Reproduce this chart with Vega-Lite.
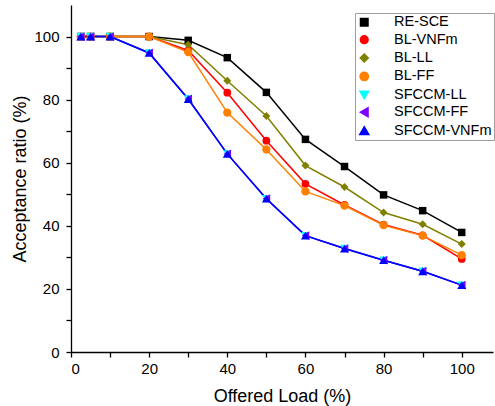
{
  "$schema": "https://vega.github.io/schema/vega-lite/v6.json",
  "autosize": {"type": "none"},
  "padding": {"left": 71, "top": 5, "right": 2, "bottom": 54},
  "width": 422,
  "height": 347,
  "background": "white",
  "config": {
    "view": {"stroke": null},
    "font": "Liberation Sans",
    "axis": {
      "grid": false,
      "domainColor": "black",
      "domainWidth": 1.3,
      "tickColor": "black",
      "tickWidth": 1.3,
      "labelColor": "black",
      "labelFont": "Liberation Sans",
      "labelFontSize": 15,
      "titleColor": "black",
      "titleFont": "Liberation Sans",
      "titleFontSize": 18,
      "titleFontWeight": "normal"
    }
  },
  "data": {
    "values": [
      {"load": 2.5, "series": "RE-SCE", "ratio": 100}, {"load": 5, "series": "RE-SCE", "ratio": 100}, {"load": 10, "series": "RE-SCE", "ratio": 100}, {"load": 20, "series": "RE-SCE", "ratio": 100}, {"load": 30, "series": "RE-SCE", "ratio": 98.8}, {"load": 40, "series": "RE-SCE", "ratio": 93.3}, {"load": 50, "series": "RE-SCE", "ratio": 82.3}, {"load": 60, "series": "RE-SCE", "ratio": 67.4}, {"load": 70, "series": "RE-SCE", "ratio": 58.8}, {"load": 80, "series": "RE-SCE", "ratio": 49.8}, {"load": 90, "series": "RE-SCE", "ratio": 44.8}, {"load": 100, "series": "RE-SCE", "ratio": 37.9},
      {"load": 2.5, "series": "BL-VNFm", "ratio": 100}, {"load": 5, "series": "BL-VNFm", "ratio": 100}, {"load": 10, "series": "BL-VNFm", "ratio": 100}, {"load": 20, "series": "BL-VNFm", "ratio": 100}, {"load": 30, "series": "BL-VNFm", "ratio": 95.6}, {"load": 40, "series": "BL-VNFm", "ratio": 82.2}, {"load": 50, "series": "BL-VNFm", "ratio": 67.0}, {"load": 60, "series": "BL-VNFm", "ratio": 53.3}, {"load": 70, "series": "BL-VNFm", "ratio": 46.6}, {"load": 80, "series": "BL-VNFm", "ratio": 40.4}, {"load": 90, "series": "BL-VNFm", "ratio": 37.0}, {"load": 100, "series": "BL-VNFm", "ratio": 29.5},
      {"load": 2.5, "series": "BL-LL", "ratio": 100}, {"load": 5, "series": "BL-LL", "ratio": 100}, {"load": 10, "series": "BL-LL", "ratio": 100}, {"load": 20, "series": "BL-LL", "ratio": 100}, {"load": 30, "series": "BL-LL", "ratio": 97.4}, {"load": 40, "series": "BL-LL", "ratio": 86.0}, {"load": 50, "series": "BL-LL", "ratio": 74.8}, {"load": 60, "series": "BL-LL", "ratio": 59.1}, {"load": 70, "series": "BL-LL", "ratio": 52.3}, {"load": 80, "series": "BL-LL", "ratio": 44.2}, {"load": 90, "series": "BL-LL", "ratio": 40.5}, {"load": 100, "series": "BL-LL", "ratio": 34.2},
      {"load": 2.5, "series": "BL-FF", "ratio": 100}, {"load": 5, "series": "BL-FF", "ratio": 100}, {"load": 10, "series": "BL-FF", "ratio": 100}, {"load": 20, "series": "BL-FF", "ratio": 100}, {"load": 30, "series": "BL-FF", "ratio": 95.1}, {"load": 40, "series": "BL-FF", "ratio": 75.9}, {"load": 50, "series": "BL-FF", "ratio": 64.2}, {"load": 60, "series": "BL-FF", "ratio": 50.9}, {"load": 70, "series": "BL-FF", "ratio": 46.4}, {"load": 80, "series": "BL-FF", "ratio": 40.2}, {"load": 90, "series": "BL-FF", "ratio": 36.9}, {"load": 100, "series": "BL-FF", "ratio": 30.7},
      {"load": 2.5, "series": "SFCCM-LL", "ratio": 100}, {"load": 5, "series": "SFCCM-LL", "ratio": 100}, {"load": 10, "series": "SFCCM-LL", "ratio": 100}, {"load": 20, "series": "SFCCM-LL", "ratio": 94.8}, {"load": 30, "series": "SFCCM-LL", "ratio": 80.2}, {"load": 40, "series": "SFCCM-LL", "ratio": 62.8}, {"load": 50, "series": "SFCCM-LL", "ratio": 48.6}, {"load": 60, "series": "SFCCM-LL", "ratio": 36.9}, {"load": 70, "series": "SFCCM-LL", "ratio": 32.8}, {"load": 80, "series": "SFCCM-LL", "ratio": 29.1}, {"load": 90, "series": "SFCCM-LL", "ratio": 25.6}, {"load": 100, "series": "SFCCM-LL", "ratio": 21.2},
      {"load": 2.5, "series": "SFCCM-FF", "ratio": 100}, {"load": 5, "series": "SFCCM-FF", "ratio": 100}, {"load": 10, "series": "SFCCM-FF", "ratio": 100}, {"load": 20, "series": "SFCCM-FF", "ratio": 94.8}, {"load": 30, "series": "SFCCM-FF", "ratio": 80.2}, {"load": 40, "series": "SFCCM-FF", "ratio": 62.8}, {"load": 50, "series": "SFCCM-FF", "ratio": 48.6}, {"load": 60, "series": "SFCCM-FF", "ratio": 36.9}, {"load": 70, "series": "SFCCM-FF", "ratio": 32.8}, {"load": 80, "series": "SFCCM-FF", "ratio": 29.1}, {"load": 90, "series": "SFCCM-FF", "ratio": 25.6}, {"load": 100, "series": "SFCCM-FF", "ratio": 21.2},
      {"load": 2.5, "series": "SFCCM-VNFm", "ratio": 100}, {"load": 5, "series": "SFCCM-VNFm", "ratio": 100}, {"load": 10, "series": "SFCCM-VNFm", "ratio": 100}, {"load": 20, "series": "SFCCM-VNFm", "ratio": 94.8}, {"load": 30, "series": "SFCCM-VNFm", "ratio": 80.2}, {"load": 40, "series": "SFCCM-VNFm", "ratio": 62.8}, {"load": 50, "series": "SFCCM-VNFm", "ratio": 48.6}, {"load": 60, "series": "SFCCM-VNFm", "ratio": 36.9}, {"load": 70, "series": "SFCCM-VNFm", "ratio": 32.8}, {"load": 80, "series": "SFCCM-VNFm", "ratio": 29.1}, {"load": 90, "series": "SFCCM-VNFm", "ratio": 25.6}, {"load": 100, "series": "SFCCM-VNFm", "ratio": 21.2}
    ]
  },
  "encoding": {
    "x": {
      "field": "load", "type": "quantitative",
      "scale": {"domain": [0, 108], "nice": false, "zero": false},
      "axis": {
        "title": "Offered Load (%)",
        "values": [0, 10, 20, 30, 40, 50, 60, 70, 80, 90, 100],
        "labelExpr": "datum.value % 20 === 0 ? datum.label : ''",
        "tickSize": 5,
        "labelPadding": 4,
        "titlePadding": 11
      }
    },
    "y": {
      "field": "ratio", "type": "quantitative",
      "scale": {"domain": [0, 110], "nice": false},
      "axis": {
        "title": "Acceptance ratio (%)",
        "values": [0, 10, 20, 30, 40, 50, 60, 70, 80, 90, 100],
        "labelExpr": "datum.value % 20 === 0 ? datum.label : ''",
        "tickSize": 5,
        "labelPadding": 7,
        "titlePadding": 4
      }
    },
    "color": {
      "field": "series", "type": "nominal",
      "scale": {"domain": ["RE-SCE", "BL-VNFm", "BL-LL", "BL-FF", "SFCCM-LL", "SFCCM-FF", "SFCCM-VNFm"], "range": ["#000000", "#ff0000", "#808000", "#ff8000", "#00ffff", "#8000ff", "#0000ff"]},
      "legend": {
        "title": null,
        "orient": "none",
        "legendX": 284,
        "legendY": 8,
        "padding": 2,
        "strokeColor": "#a0a0a0",
        "fillColor": "white",
        "symbolSize": 64,
        "symbolStrokeWidth": 1.5,
        "symbolOpacity": 1,
        "labelOffset": 22.5,
        "labelFont": "Liberation Sans",
        "labelFontSize": 14.5,
        "labelColor": "black",
        "rowPadding": 2.4
      }
    }
  },
  "layer": [
    {
      "mark": {"type": "line", "strokeWidth": 1.5},
      "encoding": {
        "order": {"field": "load", "type": "quantitative"}
      }
    },
    {
      "mark": {"type": "point", "filled": true, "opacity": 1},
      "encoding": {
        "shape": {
          "field": "series", "type": "nominal",
          "scale": {"domain": ["RE-SCE", "BL-VNFm", "BL-LL", "BL-FF", "SFCCM-LL", "SFCCM-FF", "SFCCM-VNFm"], "range": ["square", "circle", "diamond", "circle", "triangle-down", "triangle-left", "triangle-up"]},
          "legend": null
        },
        "size": {
          "field": "series", "type": "nominal",
          "scale": {"domain": ["RE-SCE", "BL-VNFm", "BL-LL", "BL-FF", "SFCCM-LL", "SFCCM-FF", "SFCCM-VNFm"], "range": [56, 81, 95, 81, 90, 90, 90]},
          "legend": null
        }
      }
    }
  ]
}
